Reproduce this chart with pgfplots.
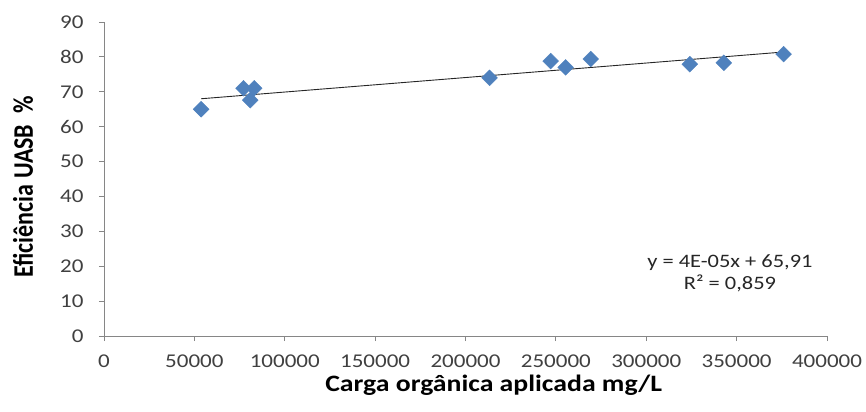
\documentclass[border=0pt]{standalone}
\usepackage{pgfplots}
\pgfplotsset{compat=1.18}
\usepackage{graphicx}
\usepackage{fontspec}
\setmainfont[FakeStretch=1.18]{Carlito}
\newfontfamily\plainfont{Carlito}
\definecolor{mk}{HTML}{4F81BD}
\definecolor{axgray}{HTML}{868686}
\definecolor{txt}{HTML}{404040}
\begin{document}
\begin{tikzpicture}
\useasboundingbox (-104bp,-76bp) rectangle (762bp,336bp);
\begin{axis}[
  at={(0,0)}, anchor=origin,
  scale only axis, width=723bp, height=314bp,
  xmin=0, xmax=400000, ymin=0, ymax=90,
  axis lines*=left,
  axis line style={axgray, line width=0.9bp, -},
  tick style={axgray, line width=0.9bp},
  tick align=outside, major tick length=5bp,
  xtick={0,50000,...,400000}, ytick={0,10,...,90},
  scaled x ticks=false,
  /pgf/number format/fixed,
  /pgf/number format/assume math mode=true,
  /pgf/number format/1000 sep={},
  ticklabel style={font=\fontsize{19.5bp}{22bp}\selectfont, text=txt},
  xticklabel style={yshift=-10bp},
  yticklabel style={xshift=-12bp},
  xlabel={\bfseries Carga orgânica aplicada mg/L},
  ylabel={\scalebox{1}[1.18]{\plainfont\bfseries Eficiência UASB\ \ \%}},
  xlabel style={at={(axis description cs:0.539,-0.156)}, anchor=center, font=\fontsize{23.5bp}{26bp}\selectfont},
  ylabel style={at={(axis description cs:-0.112,0.475)}, anchor=center, font=\fontsize{24bp}{26bp}\selectfont},
  clip=false,
]
\addplot[only marks, mark=square*, mark size=5.6bp, mark options={rotate=45, fill=mk, draw=mk}]
  coordinates {
  (53740,65.0) (77180,71.0) (83100,71.0) (80900,67.6)
  (213300,74.0) (247100,78.8) (255400,77.0) (269300,79.4)
  (324100,77.9) (342900,78.3) (376000,80.8)
  };
\addplot[black!85, line width=0.9bp, no marks] coordinates {(53740,68.0) (376000,81.4)};
\node[align=center, text=black!85, font=\fontsize{19bp}{22bp}\selectfont] at (axis cs:346300,18.1) {y = 4E-05x + 65,91\\R² = 0,859};
\end{axis}
\end{tikzpicture}
\end{document}
